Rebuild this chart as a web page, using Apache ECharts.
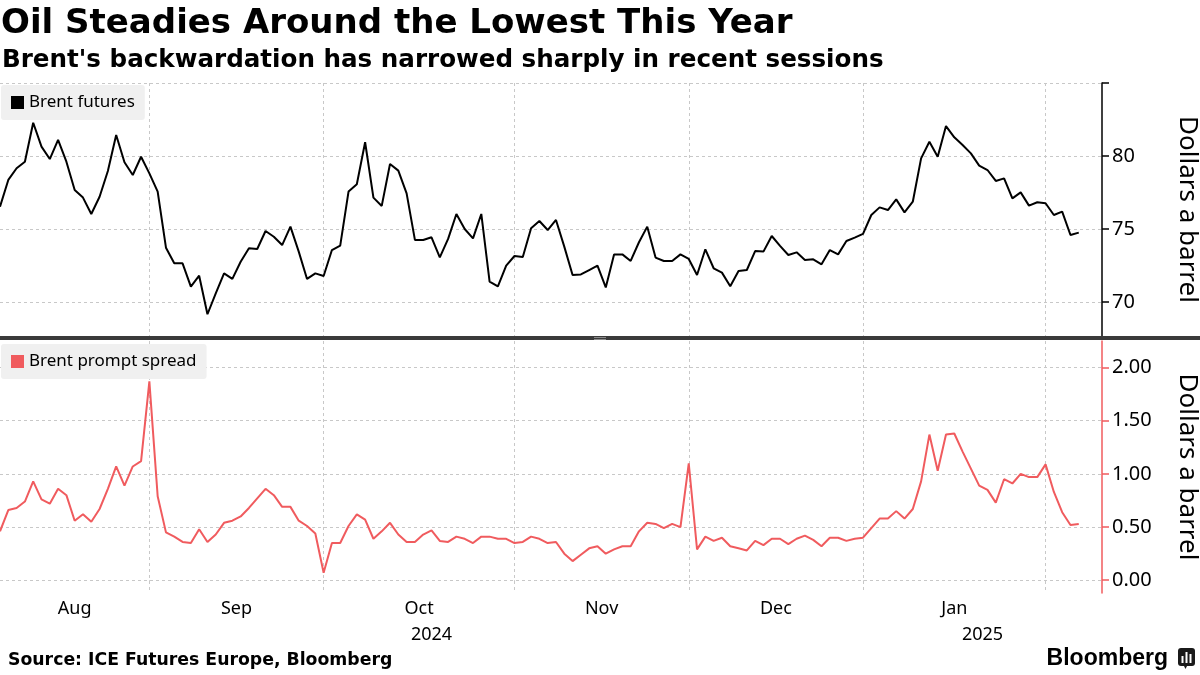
<!DOCTYPE html>
<html>
<head>
<meta charset="utf-8">
<script src="https://cdn.jsdelivr.net/npm/echarts@6/dist/echarts.min.js"></script>
<style>
  html, body { margin: 0; padding: 0; background: #fff; }
  #chart { width: 1200px; height: 675px; }
</style>
</head>
<body>
<div id="chart"></div>
<script>
// ---------- DATA ----------
const firstDay = '2024-08-06';
const lastDay = '2025-02-06';
const holidays = ['2024-12-25', '2025-01-01'];
const monthNames = ['Jan','Feb','Mar','Apr','May','Jun','Jul','Aug','Sep','Oct','Nov','Dec'];

// Brent futures, $/bbl (one value per trading day)
const brentFutures = [
  76.53, 78.36, 79.16, 79.61, 82.28, 80.64, 79.79, 81.10, 79.61, 77.67,
  77.15, 76.03, 77.21, 78.97, 81.44, 79.57, 78.70, 79.95, 78.81, 77.56,
  73.72, 72.65, 72.65, 71.05, 71.80, 69.16, 70.59, 71.96, 71.58, 72.76,
  73.68, 73.63, 74.86, 74.47, 73.90, 75.16, 73.45, 71.58, 71.96, 71.78,
  73.56, 73.86, 77.56, 78.06, 80.94, 77.15, 76.58, 79.45, 79.00, 77.44,
  74.25, 74.25, 74.43, 73.06, 74.32, 76.03, 75.00, 74.36, 76.03, 71.39,
  71.07, 72.49, 73.15, 73.08, 75.05, 75.55, 74.93, 75.62, 73.79, 71.85,
  71.89, 72.19, 72.49, 71.00, 73.26, 73.26, 72.81, 74.09, 75.16, 73.04,
  72.81, 72.81, 73.26, 72.95, 71.85, 73.61, 72.31, 72.01, 71.08, 72.12,
  72.19, 73.49, 73.45, 74.52, 73.84, 73.22, 73.40, 72.88, 72.92, 72.58,
  73.56, 73.26, 74.18, 74.41, 74.66, 75.96, 76.48, 76.30, 77.03, 76.14,
  76.87, 79.84, 80.98, 79.95, 82.05, 81.28, 80.75, 80.18, 79.34, 79.04,
  78.29, 78.47, 77.10, 77.51, 76.60, 76.83, 76.76, 75.96, 76.19, 74.59,
  74.75
];

// Brent prompt spread, $/bbl
const promptSpread = [
  0.46, 0.66, 0.68, 0.74, 0.93, 0.76, 0.72, 0.86, 0.80, 0.56,
  0.62, 0.55, 0.67, 0.86, 1.07, 0.89, 1.07, 1.12, 1.87, 0.79,
  0.45, 0.41, 0.36, 0.35, 0.48, 0.36, 0.43, 0.54, 0.56, 0.60,
  0.68, 0.77, 0.86, 0.80, 0.69, 0.69, 0.56, 0.51, 0.44, 0.07,
  0.35, 0.35, 0.51, 0.62, 0.57, 0.39, 0.46, 0.54, 0.43, 0.36,
  0.36, 0.43, 0.47, 0.37, 0.36, 0.41, 0.39, 0.35, 0.41, 0.41,
  0.39, 0.39, 0.35, 0.36, 0.41, 0.39, 0.35, 0.36, 0.25, 0.18,
  0.24, 0.30, 0.32, 0.25, 0.29, 0.32, 0.32, 0.46, 0.54, 0.53,
  0.49, 0.53, 0.50, 1.10, 0.29, 0.41, 0.37, 0.40, 0.32, 0.30,
  0.28, 0.37, 0.33, 0.39, 0.39, 0.34, 0.39, 0.42, 0.38, 0.32,
  0.40, 0.40, 0.37, 0.39, 0.40, 0.49, 0.58, 0.58, 0.65, 0.58,
  0.67, 0.93, 1.37, 1.03, 1.37, 1.38, 1.21, 1.05, 0.89, 0.85,
  0.73, 0.95, 0.91, 1.00, 0.97, 0.97, 1.09, 0.83, 0.64, 0.52,
  0.53
];

const futuresTicks = [70, 75, 80, 85];
const futuresLabels = [70, 75, 80];
const futuresMinor = [72.5, 77.5, 82.5];
const spreadTicks = [0, 0.5, 1, 1.5, 2];
const spreadMinor = [0.25, 0.75, 1.25, 1.75];

// ---------- trading-day calendar ----------
function ymd(d) { return d.toISOString().slice(0, 10); }
const tradingDays = [];
for (let d = new Date(firstDay + 'T00:00:00Z'); ymd(d) <= lastDay; d.setUTCDate(d.getUTCDate() + 1)) {
  const wd = d.getUTCDay();
  if (wd === 0 || wd === 6) continue;
  if (holidays.indexOf(ymd(d)) >= 0) continue;
  tradingDays.push(ymd(d));
}
const xMax = tradingDays.length - 1 + 2.8;   // axis runs a little past the last session

// month boundaries: last session of each month
const boundaries = [];
for (let i = 0; i < tradingDays.length - 1; i++) {
  if (tradingDays[i].slice(5, 7) !== tradingDays[i + 1].slice(5, 7)) boundaries.push(i);
}
// month label positions (centre of each month's span)
const monthLabelMap = {};
const monthCenters = [];
{
  const edges = [0].concat(boundaries);
  for (let k = 0; k < edges.length - 1; k++) {
    const c = (edges[k] + edges[k + 1]) / 2;
    const m = +tradingDays[edges[k + 1]].slice(5, 7) - 1;
    monthCenters.push(c);
    monthLabelMap[Math.round(c * 10)] = monthNames[m];
  }
}
// year label positions
const yearLabelMap = {};
const yearCenters = [];
{
  let start = 0;
  for (let i = 0; i < tradingDays.length - 1; i++) {
    if (tradingDays[i].slice(0, 4) !== tradingDays[i + 1].slice(0, 4)) {
      const c = (start + i) / 2;
      yearCenters.push(c); yearLabelMap[Math.round(c * 10)] = tradingDays[i].slice(0, 4);
      start = i;
    }
  }
  const c = (start + xMax) / 2;
  yearCenters.push(c); yearLabelMap[Math.round(c * 10)] = tradingDays[tradingDays.length - 1].slice(0, 4);
}

const futuresData = brentFutures.map((v, i) => [i, v]);
const spreadData = promptSpread.map((v, i) => [i, v]);

// ---------- chart ----------
const RED = '#f05b5e';
const GRID_LINE = { color: '#c8c8c8', type: [3, 3], width: 1 };
const LABEL_FONT = 'Noto Sans';
const TITLE_FONT = 'DejaVu Sans';

const chart = echarts.init(document.getElementById('chart'), null, { renderer: 'canvas' });

chart.setOption({
  animation: false,
  backgroundColor: '#fff',
  title: [
    { text: 'Oil Steadies Around the Lowest This Year', left: 1, top: 7,
      textStyle: { fontFamily: TITLE_FONT, fontWeight: 'bold', fontSize: 34, color: '#000' }, padding: 0 },
    { text: "Brent's backwardation has narrowed sharply in recent sessions", left: 2, top: 48,
      textStyle: { fontFamily: TITLE_FONT, fontWeight: 'bold', fontSize: 24.6, color: '#000' }, padding: 0 },
    { text: 'Source: ICE Futures Europe, Bloomberg', left: 8, top: 652,
      textStyle: { fontFamily: TITLE_FONT, fontWeight: 'bold', fontSize: 17.3, color: '#000' }, padding: 0 },
    { text: 'Bloomberg', right: 32, top: 647,
      textStyle: { fontFamily: 'Liberation Sans', fontWeight: 'bold', fontSize: 23, color: '#000' }, padding: 0 }
  ],
  legend: [
    { data: ['Brent futures'], left: 1, top: 85, icon: 'rect', itemWidth: 13, itemHeight: 13,
      backgroundColor: '#f0f0f0', borderRadius: 3, padding: [9, 10, 9, 10], selectedMode: false,
      textStyle: { fontFamily: LABEL_FONT, fontSize: 17, color: '#000' } },
    { data: ['Brent prompt spread'], left: 1, top: 344, icon: 'rect', itemWidth: 13, itemHeight: 13,
      backgroundColor: '#f0f0f0', borderRadius: 3, padding: [9, 10, 9, 10], selectedMode: false,
      textStyle: { fontFamily: LABEL_FONT, fontSize: 17, color: '#000' } }
  ],
  grid: [
    { left: 0, right: 98, top: 83, height: 253, containLabel: false, outerBoundsMode: 'none' },
    { left: 0, right: 98, top: 341, height: 252, containLabel: false, outerBoundsMode: 'none' }
  ],
  xAxis: [
    { type: 'value', gridIndex: 0, min: 0, max: xMax,
      axisLine: { show: false }, axisLabel: { show: false },
      axisTick: { show: false, customValues: boundaries },
      splitLine: { show: true, lineStyle: GRID_LINE } },
    { type: 'value', gridIndex: 1, min: 0, max: xMax, position: 'bottom',
      axisLine: { show: false },
      axisTick: { show: true, customValues: boundaries, length: 5, lineStyle: GRID_LINE },
      splitLine: { show: true, lineStyle: GRID_LINE },
      axisLabel: { customValues: monthCenters, margin: 7, fontFamily: LABEL_FONT, fontSize: 18, color: '#000',
        formatter: v => monthLabelMap[Math.round(v * 10)] || '' } },
    { type: 'value', gridIndex: 1, min: 0, max: xMax, position: 'bottom',
      axisLine: { show: false }, axisTick: { show: false }, splitLine: { show: false },
      axisLabel: { customValues: yearCenters, margin: 33, fontFamily: LABEL_FONT, fontSize: 18, color: '#000',
        formatter: v => yearLabelMap[Math.round(v * 10)] || '' } }
  ],
  yAxis: [
    { type: 'value', gridIndex: 0, position: 'right', min: 67.67, max: 85,
      axisLine: { show: true, onZero: false, lineStyle: { color: '#000', width: 1.5 } },
      axisTick: { show: true, customValues: futuresTicks, length: 7, lineStyle: { color: '#000', width: 1.5 } },
      axisLabel: { customValues: futuresLabels, margin: 10, fontFamily: LABEL_FONT, fontSize: 20, color: '#000' },
      splitLine: { show: true, lineStyle: GRID_LINE },
      name: 'Dollars a barrel', nameLocation: 'middle', nameRotate: -90, nameGap: 72,
      nameTextStyle: { fontFamily: LABEL_FONT, fontSize: 26, color: '#000' } },
    { type: 'value', gridIndex: 0, position: 'right', min: 67.67, max: 85,
      axisLine: { show: false },
      axisTick: { show: true, inside: true, customValues: futuresMinor, length: 7, lineStyle: { color: '#000', width: 1 } },
      axisLabel: { show: false }, splitLine: { show: false } },
    { type: 'value', gridIndex: 1, position: 'right', min: -0.12, max: 2.25,
      axisLine: { show: true, onZero: false, lineStyle: { color: RED, width: 1.5 } },
      axisTick: { show: true, customValues: spreadTicks, length: 7, lineStyle: { color: RED, width: 1.5 } },
      axisLabel: { customValues: spreadTicks, margin: 10, fontFamily: LABEL_FONT, fontSize: 20, color: '#000',
        formatter: v => v.toFixed(2) },
      splitLine: { show: true, lineStyle: GRID_LINE },
      name: 'Dollars a barrel', nameLocation: 'middle', nameRotate: -90, nameGap: 72,
      nameTextStyle: { fontFamily: LABEL_FONT, fontSize: 26, color: '#000' } },
    { type: 'value', gridIndex: 1, position: 'right', min: -0.12, max: 2.25,
      axisLine: { show: false },
      axisTick: { show: true, inside: true, customValues: spreadMinor, length: 7, lineStyle: { color: RED, width: 1 } },
      axisLabel: { show: false }, splitLine: { show: false } }
  ],
  series: [
    { name: 'Brent futures', type: 'line', xAxisIndex: 0, yAxisIndex: 0, data: futuresData,
      showSymbol: false, symbol: 'none', lineStyle: { color: '#000', width: 2 }, itemStyle: { color: '#000' } },
    { name: 'Brent prompt spread', type: 'line', xAxisIndex: 1, yAxisIndex: 2, data: spreadData,
      showSymbol: false, symbol: 'none', lineStyle: { color: RED, width: 2 }, itemStyle: { color: RED } }
  ],
  graphic: [
    { type: 'rect', shape: { x: 0, y: 336, width: 1200, height: 4 }, style: { fill: '#3a3a3a' }, z: 100 },
    { type: 'line', shape: { x1: 594, y1: 337.5, x2: 606, y2: 337.5 }, style: { stroke: '#8a8a8a', lineWidth: 1 }, z: 101 },
    { type: 'line', shape: { x1: 594, y1: 339.5, x2: 606, y2: 339.5 }, style: { stroke: '#8a8a8a', lineWidth: 1 }, z: 101 },
    { type: 'group', left: 1178, top: 648, children: [
      { type: 'rect', shape: { x: 0, y: 0, width: 17, height: 18, r: 3 }, style: { fill: '#1a1a1a' } },
      { type: 'polygon', shape: { points: [[6, 18], [9, 18], [7.5, 21]] }, style: { fill: '#1a1a1a' } },
      { type: 'rect', shape: { x: 3.5, y: 8, width: 2, height: 7 }, style: { fill: '#fff' } },
      { type: 'rect', shape: { x: 7.5, y: 4, width: 2, height: 11 }, style: { fill: '#fff' } },
      { type: 'rect', shape: { x: 11.5, y: 6, width: 2, height: 9 }, style: { fill: '#fff' } }
    ] }
  ]
});
</script>
</body>
</html>
